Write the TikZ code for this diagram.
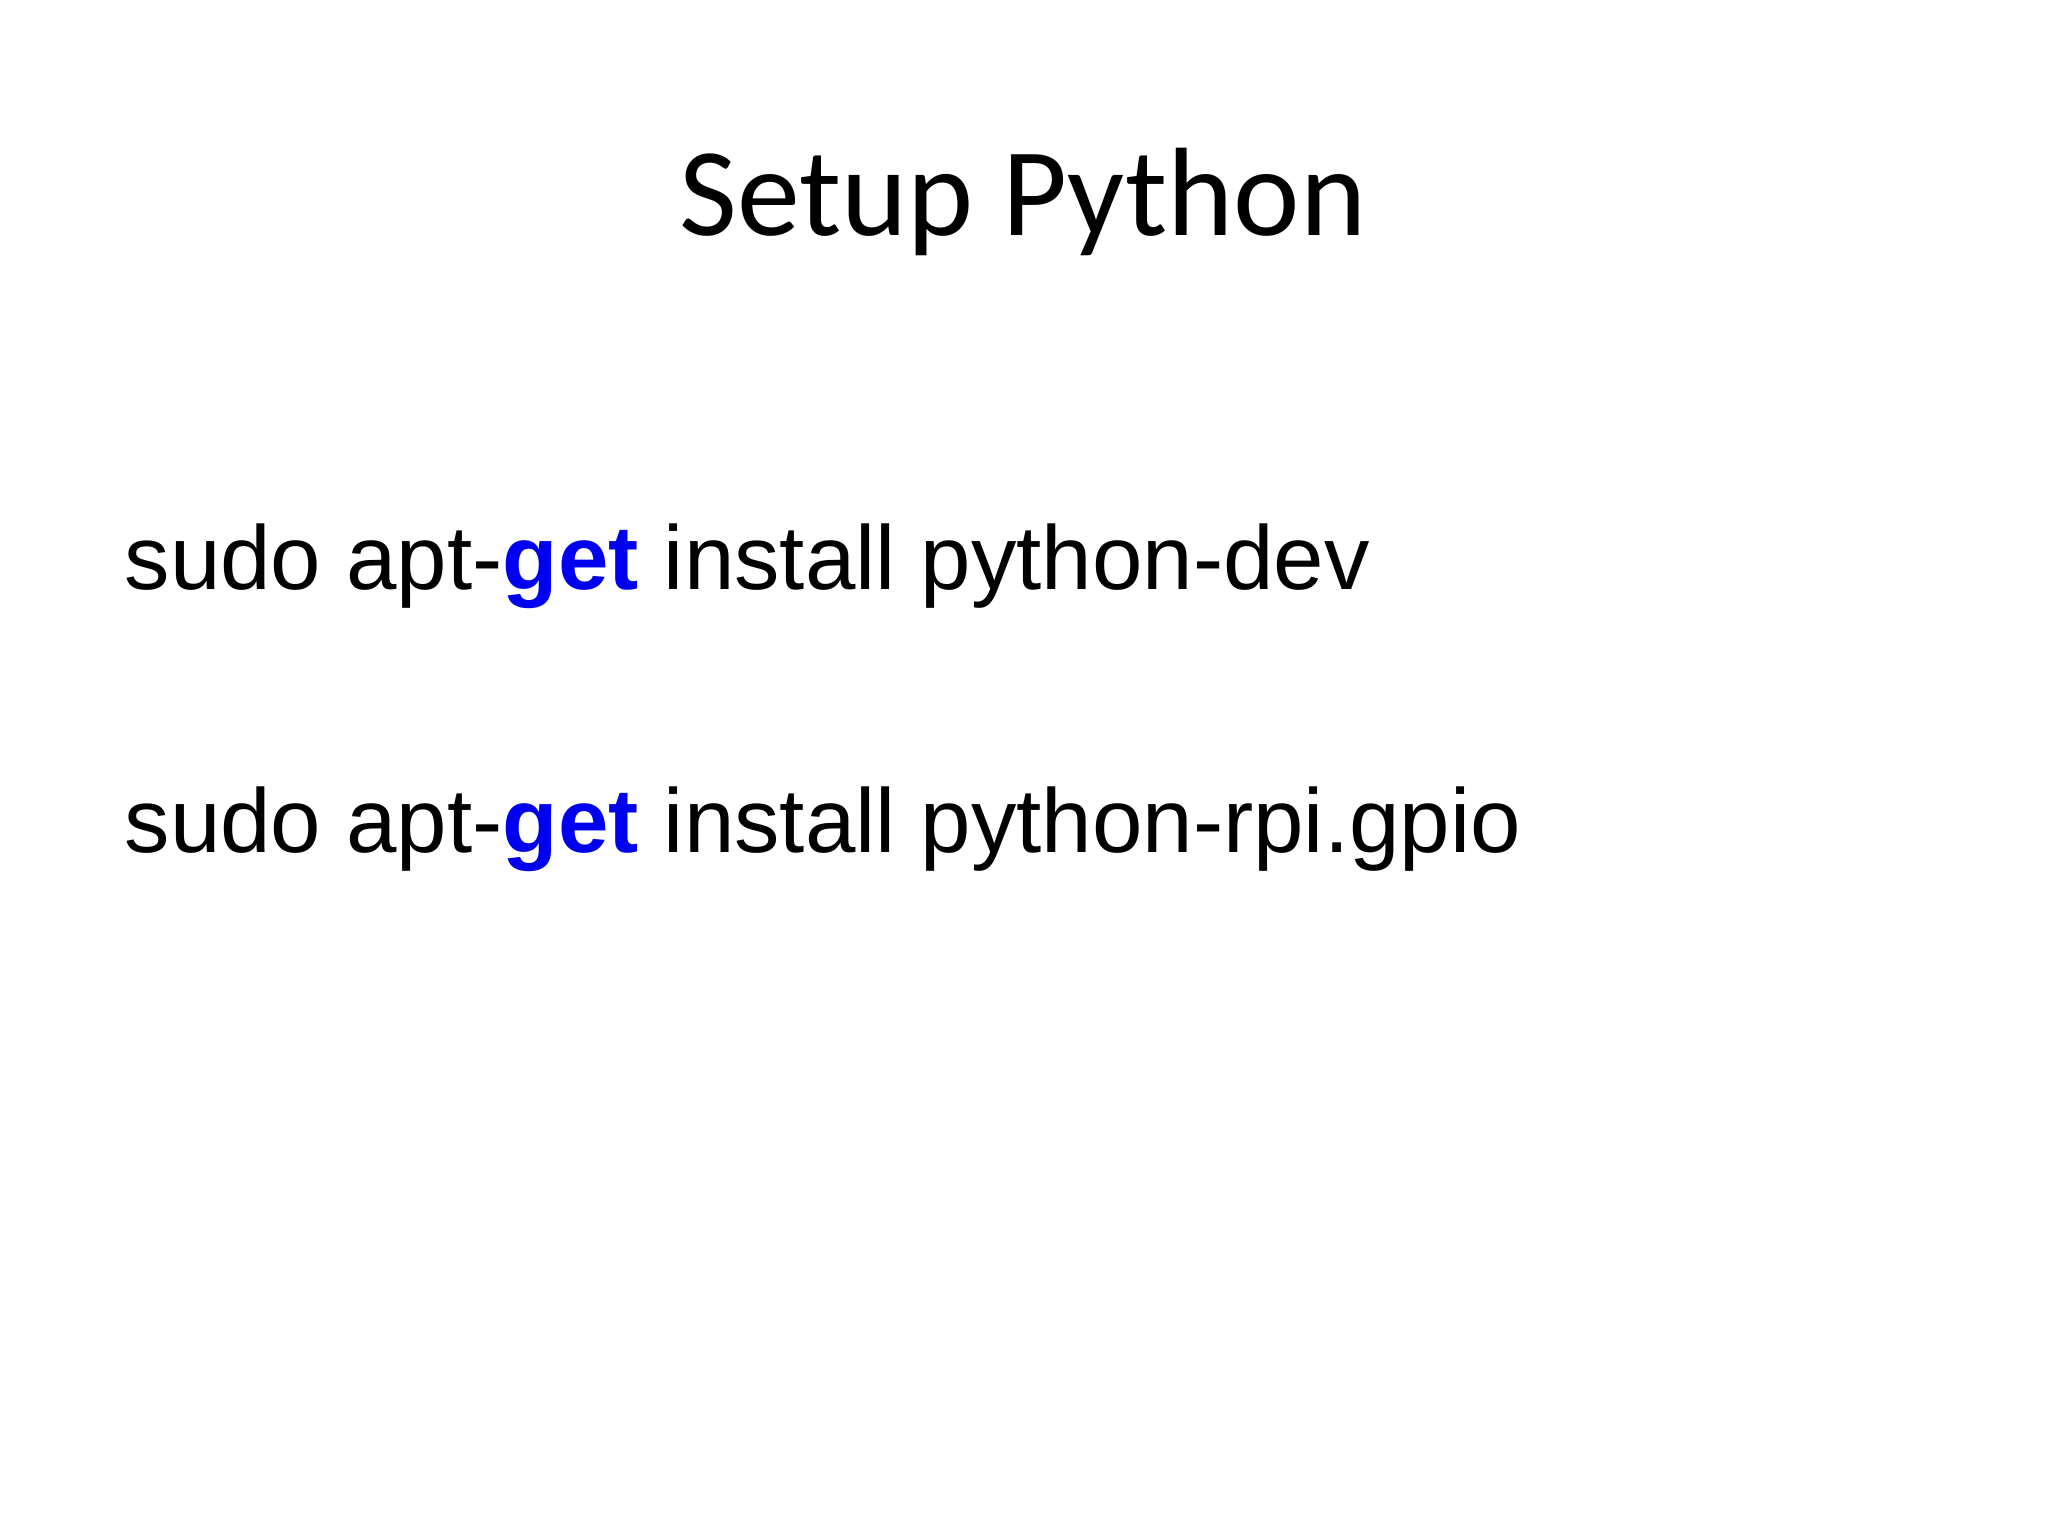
\documentclass[tikz,border=0pt]{standalone}
\usepackage{fontspec}
\setmainfont{Liberation Sans}
\newfontfamily\titlefont{Carlito}
\definecolor{kw}{RGB}{0,0,240}
\begin{document}
\begin{tikzpicture}
\tikzset{cmd/.style={anchor=base west,inner sep=0pt,font=\fontsize{25.8}{31}\selectfont}}
\useasboundingbox[fill=white] (0,0) rectangle (20.48,15.36);
\node[anchor=base,inner sep=0pt,font=\titlefont\fontsize{35.8}{42}\selectfont] (title) at (10.23,13.0) {Setup Python};
\node[cmd] (l1) at (1.24,9.46) {sudo apt-\textcolor{kw}{\bfseries get} install python-dev};
\node[cmd] (l2) at (1.24,6.83) {sudo apt-\textcolor{kw}{\bfseries get} install python-rpi.gpio};
\end{tikzpicture}
\end{document}
